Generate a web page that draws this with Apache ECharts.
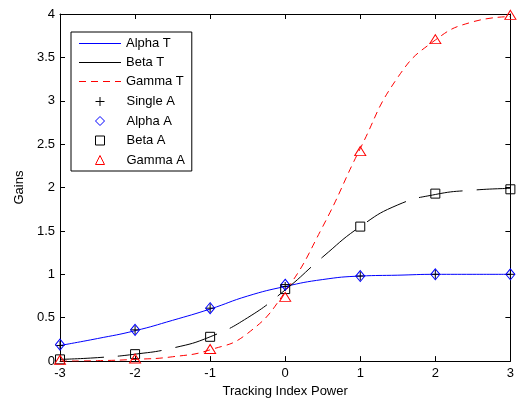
<!DOCTYPE html>
<html><head><meta charset="utf-8">
<script src="https://cdn.jsdelivr.net/npm/echarts@6/dist/echarts.min.js"></script>
<style>html,body{margin:0;padding:0;background:#fff}#c{width:517px;height:403px}</style>
</head><body><div id="c"></div>
<script>
const xTicks=[-3,-2,-1,0,1,2,3];
const curveX=[-3,-2.5,-2,-1.5,-1,-0.5,0,0.5,1,1.5,2,2.5,3];
const alphaT=[0.18,0.26,0.35,0.47,0.60,0.75,0.86,0.94,0.98,0.99,1.0,1.0,1.0];
const betaT=[0.02,0.04,0.08,0.15,0.28,0.50,0.82,1.20,1.55,1.80,1.92,1.97,1.99];
const gammaT=[0.0,0.005,0.02,0.05,0.13,0.32,0.80,1.55,2.45,3.27,3.70,3.91,3.97];
const singleA=[0.18,0.36,0.61,0.86,0.98,1.0,1.0];
const alphaA=[0.19,0.36,0.61,0.88,0.98,1.0,1.0];
const betaA=[0.02,0.08,0.28,0.83,1.55,1.93,1.98];
const gammaA=[0.015,0.03,0.14,0.74,2.42,3.71,3.99];
const lineNames=['Alpha T','Beta T','Gamma T'];
const markNames=['Single A','Alpha A','Beta A','Gamma A'];

const lineColors=['#0000ff','#000000','#ff0000'];
const solidIcon='path://M0,0M42,9M0,4H42V5H0Z';
const dashIcon='path://M0,0M42,9M0,4H7V5H0Z M12,4H19V5H12Z M24,4H31V5H24Z M36,4H42V5H36Z';
const lineIcons=[solidIcon,solidIcon,dashIcon];
const pair=(xs,ys)=>xs.map((x,i)=>[x,ys[i]]);
const font='Liberation Sans, Arial, sans-serif';
const chart=echarts.init(document.getElementById('c'),null,{renderer:'canvas'});
const lineSeries=(name,ys,color,type)=>({
  name,type:'line',data:pair(curveX,ys),smooth:0.5,symbol:'none',
  lineStyle:{color,width:1,type},itemStyle:{color},z:2,animation:false
});
const scat=(name,ys,symbol,size,color)=>({
  name,type:'scatter',data:pair(xTicks,ys),symbol,symbolSize:size,
  itemStyle:{color:'rgba(0,0,0,0)',borderColor:color,borderWidth:1,opacity:1},z:3,animation:false
});
const axisCommon={
  axisLine:{show:true,onZero:false,lineStyle:{color:'#000',width:1}},
  axisTick:{show:true,inside:true,length:5,lineStyle:{color:'#000'}},
  splitLine:{show:false}
};
const legText={fontSize:13,color:'#000',fontFamily:font};
chart.setOption({
  backgroundColor:'#fff',
  animation:false,
  textStyle:{fontFamily:font},
  grid:{left:60,top:14,width:452,height:350,show:false},
  legend:[{
    data:lineNames.map((n,i)=>({name:n,icon:lineIcons[i],
      itemStyle:{color:lineColors[i],borderWidth:0,opacity:1}})),
    orient:'vertical',left:71,top:32,
    itemWidth:42,itemHeight:9,itemGap:6,
    padding:[5,8,83,8],
    borderColor:'#000',borderWidth:1,backgroundColor:'#fff',
    textStyle:legText,selectedMode:false,z:5
  },{
    data:markNames,
    orient:'vertical',left:95,top:95,
    itemWidth:9,itemHeight:9,itemGap:6.5,padding:0,
    itemStyle:{borderWidth:1},
    textStyle:Object.assign({padding:[0,0,0,17]},legText),selectedMode:false,z:6
  }],
  xAxis:[
    Object.assign({type:'value',min:-3,max:3,interval:1,position:'bottom',
      name:'Tracking Index Power',nameLocation:'middle',nameGap:21,
      nameTextStyle:{fontSize:13,color:'#000',fontFamily:font},
      axisLabel:{fontSize:13,color:'#000',margin:6,fontFamily:font}},axisCommon),
    Object.assign({type:'value',min:-3,max:3,interval:1,position:'top',
      axisLabel:{show:false}},axisCommon)
  ],
  yAxis:[
    Object.assign({type:'value',min:0,max:4,interval:0.5,position:'left',
      name:'Gains',nameLocation:'middle',nameGap:34,
      nameTextStyle:{fontSize:13,color:'#000',fontFamily:font},
      axisLabel:{fontSize:13,color:'#000',margin:5,fontFamily:font}},axisCommon),
    Object.assign({type:'value',min:0,max:4,interval:0.5,position:'right',
      axisLabel:{show:false}},axisCommon)
  ],
  series:[
    lineSeries('Alpha T',alphaT,'#0000ff','solid'),
    lineSeries('Beta T',betaT,'#000000',[44,14]),
    lineSeries('Gamma T',gammaT,'#ff0000',[7,5]),
    scat('Single A',singleA,'path://M5,0L5,10M0,5L10,5',9,'#000000'),
    scat('Alpha A',alphaA,'diamond',[9,11],'#0000ff'),
    scat('Beta A',betaA,'rect',9,'#000000'),
    scat('Gamma A',gammaA,'triangle',[11,9],'#ff0000')
  ]
});
</script></body></html>
